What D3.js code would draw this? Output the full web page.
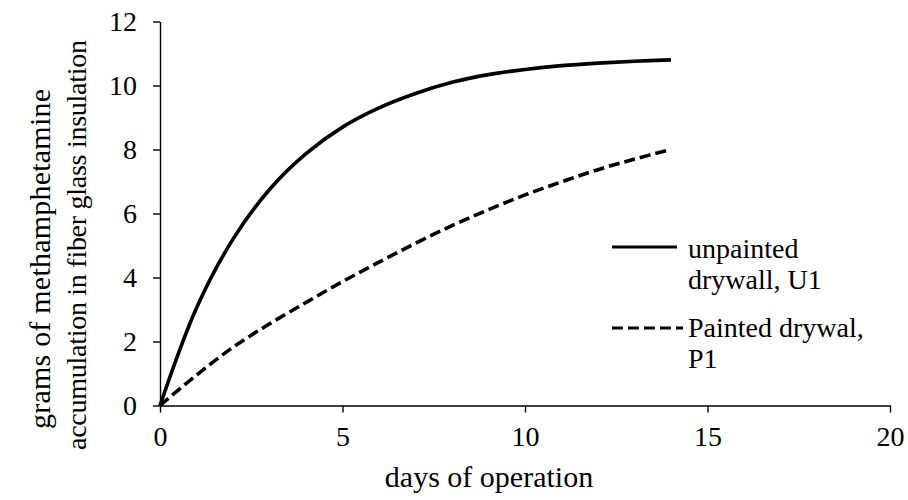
<!DOCTYPE html>
<html>
<head>
<meta charset="utf-8">
<script src="https://cdn.jsdelivr.net/npm/d3@7"></script>
<style>
  html, body { margin: 0; padding: 0; background: #fff; }
  svg { display: block; font-family: "Liberation Serif", "Times New Roman", serif; }
</style>
</head>
<body>
<svg id="chart" width="908" height="500"></svg>
<script>
// Days of operation sampled once per day
const days = [0, 1, 2, 3, 4, 5, 6, 7, 8, 9, 10, 11, 12, 13, 14];
// Grams of methamphetamine accumulated in fiber glass insulation
const unpainted = [0, 3.05, 5.2, 6.75, 7.87, 8.7, 9.3, 9.75, 10.1, 10.34, 10.5, 10.62, 10.7, 10.76, 10.8];
const painted   = [0, 0.95, 1.82, 2.55, 3.22, 3.87, 4.48, 5.07, 5.62, 6.12, 6.58, 6.99, 7.37, 7.7, 8.0];
const xTicks = [0, 5, 10, 15, 20];
const yTicks = [0, 2, 4, 6, 8, 10, 12];
const seriesNames = ["unpainted", "drywall, U1"];
const seriesNames2 = ["Painted drywal,", "P1"];

const svg = d3.select("#chart");
const ink = "#000";

const x = d3.scaleLinear().domain([0, 20]).range([160, 890]);
const y = d3.scaleLinear().domain([0, 12]).range([405.5, 21.5]);

// Axes
const gx = svg.append("g")
  .attr("transform", `translate(0,${y(0)})`)
  .call(d3.axisBottom(x).tickValues(xTicks).tickSize(7).tickSizeOuter(0).tickPadding(14));
const gy = svg.append("g")
  .attr("transform", `translate(${x(0)},0)`)
  .call(d3.axisLeft(y).tickValues(yTicks).tickSize(7).tickSizeOuter(0).tickPadding(16));

[gx, gy].forEach(g => {
  g.select(".domain").attr("stroke", ink).attr("stroke-width", 1.4);
  g.selectAll(".tick line").attr("stroke", ink).attr("stroke-width", 1.4);
  g.selectAll(".tick text").attr("fill", ink).attr("font-size", 28)
    .attr("font-family", "Liberation Serif, Times New Roman, serif");
});

// Curves
const line = (vals) => d3.line()
  .x((d, i) => x(days[i]))
  .y(d => y(d))
  .curve(d3.curveCatmullRom.alpha(0.5))(vals);

svg.append("path")
  .attr("d", line(unpainted))
  .attr("fill", "none").attr("stroke", ink).attr("stroke-width", 3.6)
  .attr("stroke-linecap", "butt");

svg.append("path")
  .attr("d", line(painted))
  .attr("fill", "none").attr("stroke", ink).attr("stroke-width", 3.6)
  .attr("stroke-dasharray", "11,5");

// Legend
const legend = svg.append("g").attr("font-size", 28).attr("fill", ink);
legend.append("line").attr("x1", 612).attr("x2", 677).attr("y1", 247).attr("y2", 247)
  .attr("stroke", ink).attr("stroke-width", 3);
legend.append("text").attr("x", 688).attr("y", 258).text(seriesNames[0]);
legend.append("text").attr("x", 688).attr("y", 289).text(seriesNames[1]);
legend.append("line").attr("x1", 612).attr("x2", 683).attr("y1", 328).attr("y2", 328)
  .attr("stroke", ink).attr("stroke-width", 3).attr("stroke-dasharray", "11,5");
legend.append("text").attr("x", 688).attr("y", 337).text(seriesNames2[0]);
legend.append("text").attr("x", 688).attr("y", 368).text(seriesNames2[1]);

// Axis titles
svg.append("text")
  .attr("x", 489).attr("y", 487)
  .attr("text-anchor", "middle").attr("font-size", 30).attr("fill", ink)
  .text("days of operation");

svg.append("text")
  .attr("transform", "translate(50,259) rotate(-90)")
  .attr("text-anchor", "middle").attr("font-size", 30).attr("fill", ink)
  .attr("textLength", 340).attr("lengthAdjust", "spacing")
  .text("grams of methamphetamine");
svg.append("text")
  .attr("transform", "translate(86,245) rotate(-90)")
  .attr("text-anchor", "middle").attr("font-size", 28).attr("fill", ink)
  .attr("textLength", 410).attr("lengthAdjust", "spacing")
  .text("accumulation in fiber glass insulation");
</script>
</body>
</html>
